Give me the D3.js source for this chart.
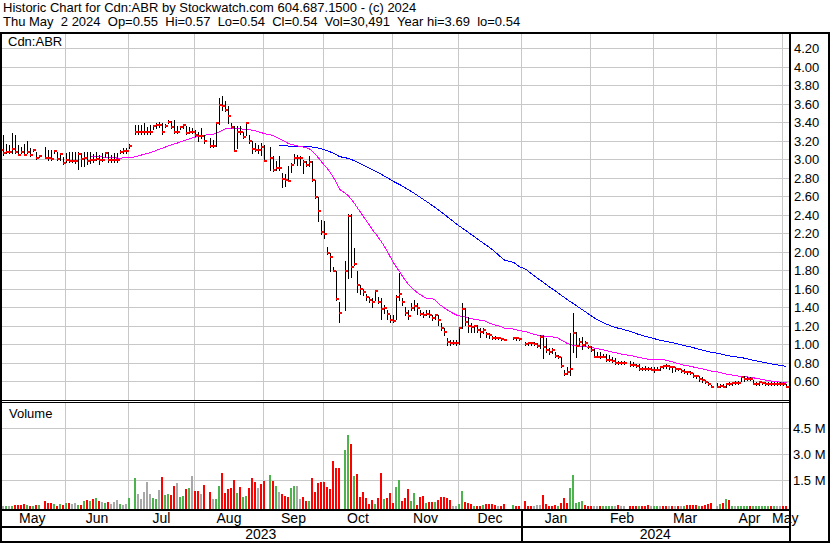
<!DOCTYPE html>
<html><head><meta charset="utf-8">
<script src="https://cdn.jsdelivr.net/npm/d3@7"></script>
<style>
html,body{margin:0;padding:0;background:#fff;}
svg{display:block;font-family:"Liberation Sans",Arial,Helvetica,sans-serif;}
svg text{white-space:pre;}
</style></head><body>
<svg id="chart" width="830" height="543"></svg>
<script>
// ---------------- DATA ----------------
const titleLine1 = "Historic Chart for Cdn:ABR by Stockwatch.com 604.687.1500 - (c) 2024";
const titleLine2 = "Thu May  2 2024  Op=0.55  Hi=0.57  Lo=0.54  Cl=0.54  Vol=30,491  Year hi=3.69  lo=0.54";
const symbolLabel = "Cdn:ABR";
const volumeLabel = "Volume";
const firstDay = "2023-05-02";
const lastDay = "2024-05-02";
const holidays = ["2023-05-22","2023-07-03","2023-08-07","2023-09-04","2023-10-09",
  "2023-12-25","2023-12-26","2024-01-01","2024-02-19","2024-03-29"];

const closes = [
 3.10,3.065,3.08,3.08,3.11,3.08,3.05,3.08,3.05,3.08,3.05,3.10,3.015,3.035,3.02,3.015,3.005,3.09,3.005,3.055,2.96,
 2.99,2.985,2.985,2.985,3.06,3.005,3.02,2.985,2.99,2.995,3.01,2.995,2.995,3.07,2.995,2.99,2.99,2.99,3.08,3.09,3.09,3.145,
 3.30,3.30,3.30,3.30,3.30,3.30,3.36,3.375,3.375,3.30,3.365,3.41,3.35,3.30,3.30,3.35,3.37,3.29,3.30,3.30,
 3.27,3.25,3.25,3.20,3.15,3.15,3.39,3.59,3.575,3.54,3.47,3.35,3.095,3.30,3.295,3.245,3.39,3.195,3.11,3.10,3.10,3.135,
 2.985,3.015,2.89,2.905,2.905,2.79,2.78,2.77,2.945,3.015,3.015,3.015,2.97,2.945,2.97,2.78,2.59,2.44,2.22,2.20,
 1.99,1.95,1.80,1.49,1.34,1.80,2.39,1.84,1.875,1.64,1.605,1.57,1.515,1.48,1.46,1.58,1.46,1.38,1.39,1.335,1.265,
 1.255,1.515,1.545,1.46,1.345,1.305,1.39,1.415,1.39,1.335,1.32,1.335,1.32,1.29,1.32,1.265,1.175,1.14,1.03,1.02,1.02,1.02,
 1.175,1.38,1.245,1.20,1.19,1.20,1.155,1.14,1.16,1.11,1.10,1.07,1.065,1.065,1.055,1.05,1.07,1.065,1.06,
 1.01,1.02,1.02,1.01,0.98,1.08,0.97,0.94,0.92,0.94,0.88,0.865,0.765,0.68,0.70,0.73,1.12,0.98,1.03,1.00,1.02,0.975,
 0.945,0.87,0.87,0.87,0.87,0.83,0.83,0.82,0.80,0.80,0.80,0.80,0.78,0.78,0.765,0.73,0.735,0.73,0.73,0.725,
 0.725,0.725,0.755,0.77,0.77,0.755,0.755,0.73,0.73,0.71,0.70,0.70,0.69,0.66,0.655,0.625,0.615,0.59,0.575,0.54,
 0.54,0.555,0.54,0.575,0.575,0.58,0.58,0.585,0.645,0.625,0.625,0.625,0.575,0.575,0.59,0.58,0.575,0.575,0.575,0.575,0.575,0.575,
 0.575,0.54
];
const highs = [
 3.16,3.26,3.17,3.16,3.29,3.26,3.155,3.14,3.17,3.20,3.125,3.11,3.08,3.045,3.14,3.10,3.10,3.10,3.08,3.065,3.025,
 3.075,3.08,3.08,3.08,3.08,3.07,3.08,3.08,3.08,3.055,3.08,3.045,3.07,3.075,3.08,3.045,3.065,3.065,3.10,3.12,3.12,3.17,
 3.37,3.37,3.37,3.395,3.35,3.37,3.37,3.39,3.405,3.39,3.38,3.43,3.42,3.43,3.36,3.36,3.38,3.36,3.35,3.34,
 3.32,3.30,3.34,3.27,3.23,3.21,3.40,3.665,3.69,3.63,3.575,3.395,3.365,3.36,3.36,3.30,3.405,3.27,3.195,3.18,3.16,3.18,
 3.16,3.14,3.035,2.98,3.035,2.85,2.84,2.925,2.96,3.06,3.05,3.035,3.00,2.98,3.035,2.98,2.78,2.60,2.35,2.335,
 2.05,1.99,1.84,1.80,1.46,1.90,2.415,2.415,2.04,1.80,1.64,1.605,1.55,1.515,1.50,1.59,1.515,1.50,1.425,1.37,1.32,
 1.32,1.535,1.77,1.50,1.41,1.37,1.445,1.48,1.445,1.37,1.355,1.37,1.37,1.32,1.335,1.32,1.23,1.175,1.065,1.05,1.05,1.05,
 1.19,1.445,1.39,1.30,1.23,1.21,1.21,1.175,1.175,1.13,1.12,1.09,1.09,1.08,1.07,1.06,1.08,1.08,1.07,
 1.03,1.03,1.03,1.03,1.02,1.10,1.10,1.07,0.96,0.96,0.92,0.89,0.87,0.725,0.76,1.127,1.337,1.13,1.07,1.08,1.04,1.00,
 0.98,0.95,0.92,0.92,0.90,0.90,0.89,0.86,0.85,0.82,0.82,0.82,0.82,0.81,0.785,0.785,0.76,0.77,0.76,0.76,
 0.76,0.755,0.77,0.78,0.785,0.78,0.76,0.76,0.75,0.74,0.735,0.71,0.71,0.69,0.67,0.66,0.645,0.62,0.60,0.565,
 0.58,0.575,0.575,0.585,0.59,0.60,0.61,0.61,0.65,0.655,0.65,0.65,0.62,0.60,0.60,0.60,0.60,0.60,0.60,0.60,0.60,0.60,
 0.60,0.57
];
const lows = [
 3.06,3.045,3.065,3.07,3.07,3.065,3.045,3.065,3.045,3.065,3.035,3.09,3.005,3.03,3.015,3.00,2.99,3.07,2.99,3.00,2.955,
 2.975,2.975,2.975,2.96,2.90,2.935,2.925,2.95,2.96,2.975,2.99,2.955,2.985,3.03,2.975,2.975,2.97,2.975,3.07,3.07,3.075,3.12,
 3.28,3.28,3.28,3.28,3.28,3.28,3.335,3.345,3.35,3.28,3.35,3.395,3.34,3.285,3.285,3.33,3.34,3.275,3.285,3.285,
 3.25,3.195,3.23,3.18,3.14,3.13,3.15,3.38,3.54,3.52,3.395,3.34,3.09,3.12,3.275,3.23,3.27,3.18,3.07,3.09,3.075,3.05,
 2.98,2.89,2.88,2.89,2.89,2.70,2.71,2.765,2.87,2.96,2.94,2.94,2.85,2.925,2.925,2.765,2.58,2.33,2.20,2.15,
 1.98,1.80,1.79,1.48,1.245,1.37,1.715,1.73,1.86,1.57,1.55,1.535,1.48,1.46,1.41,1.48,1.445,1.28,1.34,1.28,1.245,
 1.245,1.28,1.48,1.425,1.32,1.28,1.37,1.37,1.335,1.32,1.30,1.32,1.30,1.265,1.28,1.21,1.155,1.10,0.995,0.995,1.005,0.995,
 1.01,1.175,1.21,1.14,1.14,1.14,1.14,1.085,1.12,1.08,1.07,1.06,1.06,1.055,1.05,1.045,1.055,1.05,1.05,
 1.00,0.99,1.00,0.995,0.97,0.965,0.855,0.92,0.90,0.91,0.865,0.855,0.755,0.67,0.68,0.665,0.92,0.86,0.99,0.95,0.98,0.96,
 0.93,0.86,0.86,0.855,0.86,0.82,0.825,0.81,0.79,0.785,0.79,0.79,0.77,0.77,0.76,0.72,0.725,0.725,0.72,0.72,
 0.70,0.72,0.72,0.745,0.745,0.74,0.70,0.71,0.72,0.70,0.69,0.685,0.68,0.65,0.635,0.61,0.60,0.58,0.565,0.54,
 0.54,0.54,0.54,0.54,0.56,0.565,0.57,0.575,0.61,0.61,0.615,0.615,0.57,0.565,0.565,0.57,0.565,0.565,0.565,0.565,0.565,0.56,
 0.565,0.54
];
// daily volume, thousands of shares
const volumesK = [
 100,57,40,10,57,115,115,115,172,115,57,40,115,115,344,229,229,172,40,172,115,
 229,229,172,229,115,115,344,402,344,459,516,344,287,229,287,172,287,402,172,115,172,516,
 1663,746,459,860,1434,746,516,459,975,1721,688,746,688,1205,1377,574,631,1033,1090,1778,
 918,918,746,1262,860,459,459,1205,1950,803,1033,1090,1549,803,1147,574,631,1090,1663,1434,1090,1319,
 1491,1836,1491,1205,860,746,631,574,1090,1205,1205,459,574,344,344,1663,860,1377,1434,1434,
 1147,1033,2639,2237,2237,3270,4130,3614,1778,1893,574,860,516,172,402,172,516,1950,459,516,803,
 229,1147,1549,344,516,1033,344,803,115,535,631,210,249,287,249,402,535,574,516,402,57,57,
 172,918,287,229,172,57,40,40,115,172,172,134,96,30,40,172,115,57,57,
 344,40,40,57,115,115,688,172,57,57,115,57,229,516,229,1090,1836,229,287,344,115,57,
 57,30,30,40,57,57,40,40,20,96,20,20,57,40,40,57,40,40,96,20,
 40,40,20,40,40,40,40,57,40,40,40,96,96,96,96,40,57,96,172,229,
 57,153,229,421,363,57,20,20,20,20,20,10,10,10,10,10,10,10,57,20,57,20,
 20,30
];
// day-over-day change of the close as shown by the volume colour: 1 up, -1 down, 0 unchanged
const volumeChange = [
 0,0,1,0,1,-1,-1,-1,-1,1,-1,1,-1,1,-1,-1,-1,1,-1,1,-1,
 1,-1,0,0,1,-1,1,-1,1,-1,1,-1,0,1,-1,0,0,0,1,0,0,1,
 1,0,0,0,0,0,1,1,0,-1,1,1,-1,-1,0,1,1,-1,1,0,
 -1,-1,0,-1,-1,0,1,1,-1,-1,-1,-1,-1,1,-1,1,1,-1,-1,-1,0,-1,
 -1,1,-1,1,0,-1,-1,-1,1,1,0,0,-1,-1,1,-1,-1,-1,-1,-1,
 -1,-1,-1,-1,-1,1,1,-1,1,-1,-1,-1,-1,-1,-1,1,-1,-1,1,-1,-1,
 -1,1,1,-1,-1,-1,1,1,-1,-1,-1,1,-1,-1,1,-1,-1,-1,-1,-1,0,0,
 1,1,-1,-1,-1,1,-1,-1,1,-1,-1,-1,-1,0,-1,-1,1,-1,-1,
 -1,-1,-1,0,0,0,-1,-1,-1,-1,-1,1,-1,-1,-1,1,1,1,1,1,-1,-1,
 -1,0,0,-1,1,1,1,1,0,-1,0,0,-1,-1,-1,1,-1,-1,-1,0,
 1,1,0,-1,-1,0,-1,0,-1,0,1,-1,-1,-1,-1,1,-1,-1,-1,-1,
 0,1,-1,1,-1,1,0,1,1,1,1,-1,1,1,1,1,1,1,-1,1,0,0,
 -1,-1
];
const priceTicks = [0.60,0.80,1.00,1.20,1.40,1.60,1.80,2.00,2.20,2.40,2.60,2.80,3.00,3.20,3.40,3.60,3.80,4.00,4.20];
const volumeTicks = [1.5e6, 3.0e6, 4.5e6];
const volumeTickLabels = ["1.5 M","3.0 M","4.5 M"];
const monthNames = ["Jan","Feb","Mar","Apr","May","Jun","Jul","Aug","Sep","Oct","Nov","Dec"];
const shortAverageDays = 30;
const longAverageDays = 90;

// ---------------- LAYOUT ----------------
const W = 830, H = 543;
const plotL = 2, plotR = 789;
const priceTop = 34, priceBottom = 400;
const volTop = 403, volBottom = 509;
const monthRowBottom = 526;
const C = {grid:"#c8c8c8", bar:"#000", close:"#ff0000", maS:"#ff00ff", maL:"#0000ff",
           up:"#4cb44c", down:"#ff0000", flat:"#a8a8a8", text:"#000"};

const svg = d3.select("#chart");
svg.append("rect").attr("width",W).attr("height",H).attr("fill","#fff");

// ---------------- DATES / SLOTS ----------------
const parse = d3.utcParse("%Y-%m-%d"), fmt = d3.utcFormat("%Y-%m-%d");
const holidaySet = new Set(holidays);
const weekdays = d3.utcDays(parse(firstDay), d3.utcDay.offset(parse(lastDay),1))
  .filter(d => d.getUTCDay() !== 0 && d.getUTCDay() !== 6);
const slotOf = new Map(weekdays.map((d,i)=>[fmt(d), i]));
const tradingDays = weekdays.filter(d => !holidaySet.has(fmt(d)));
const bars = tradingDays.map((d,i)=>({date:d, slot:slotOf.get(fmt(d)), c:closes[i], h:highs[i], l:lows[i],
  v:volumesK[i]*1000, dir:volumeChange[i]}));
const nSlots = weekdays.length;

const x = d3.scaleLinear().domain([0, nSlots-1]).range([0, 3*(nSlots-1)]);
const y = d3.scaleLinear().domain([0.6, 4.2]).range([381.5, 48.5]);
const yv = d3.scaleLinear().domain([0, 4.5e6]).range([506.5, 428.5]);

const months = d3.utcMonths(d3.utcMonth.floor(parse(firstDay)), d3.utcMonth.offset(d3.utcMonth.floor(parse(lastDay)),1));
function boundarySlot(m){
  let s = -1;
  weekdays.forEach((d,i)=>{ if (d <= m) s = i; });
  return s;
}
const monthInfo = months.map((m,i)=>({m, start: i===0 ? null : boundarySlot(m)}));
const gridX = s => x(s) - 0.5;

// ---------------- CLIPS ----------------
const defs = svg.append("defs");
defs.append("clipPath").attr("id","pclip").append("rect")
  .attr("x",plotL).attr("y",priceTop).attr("width",plotR-plotL).attr("height",priceBottom-priceTop);
defs.append("clipPath").attr("id","vclip").append("rect")
  .attr("x",plotL).attr("y",volTop).attr("width",plotR-plotL).attr("height",volBottom-volTop);

// ---------------- GRID ----------------
const grid = svg.append("g").attr("shape-rendering","crispEdges").attr("stroke",C.grid).attr("stroke-width",1);
grid.selectAll(".hp").data(priceTicks).join("line")
  .attr("x1",plotL).attr("x2",plotR)
  .attr("y1",d=>Math.floor(y(d))+0.5).attr("y2",d=>Math.floor(y(d))+0.5);
grid.selectAll(".hv").data(volumeTicks).join("line")
  .attr("x1",plotL).attr("x2",plotR)
  .attr("y1",d=>Math.floor(yv(d))+0.5).attr("y2",d=>Math.floor(yv(d))+0.5);
const vlines = monthInfo.filter(d=>d.start!==null);
grid.selectAll(".vp").data(vlines).join("line")
  .attr("x1",d=>gridX(d.start)).attr("x2",d=>gridX(d.start))
  .attr("y1",priceTop).attr("y2",priceBottom);
grid.selectAll(".vv").data(vlines).join("line")
  .attr("x1",d=>gridX(d.start)).attr("x2",d=>gridX(d.start))
  .attr("y1",volTop).attr("y2",volBottom);

// ---------------- VOLUME ----------------
svg.append("g").attr("clip-path","url(#vclip)").attr("shape-rendering","crispEdges")
  .selectAll("rect").data(bars).join("rect")
  .attr("x",d=>x(d.slot)-1).attr("width",2)
  .attr("y",d=>Math.round(yv(d.v))).attr("height",d=>volBottom-Math.round(yv(d.v)))
  .attr("fill",d=>d.dir>0?C.up:(d.dir<0?C.down:C.flat));

// ---------------- MOVING AVERAGES ----------------
function sma(n){
  return bars.map((b,i)=> i<n-1 ? null : {slot:b.slot, val:d3.mean(bars.slice(i-n+1,i+1), d=>d.c)}).filter(Boolean);
}
const line = d3.line().x(d=>x(d.slot)+0.5).y(d=>y(d.val));
const pg = svg.append("g").attr("clip-path","url(#pclip)");
pg.append("path").datum(sma(longAverageDays)).attr("d",line).attr("fill","none")
  .attr("stroke",C.maL).attr("stroke-width",1).attr("shape-rendering","crispEdges");
pg.append("path").datum(sma(shortAverageDays)).attr("d",line).attr("fill","none")
  .attr("stroke",C.maS).attr("stroke-width",1).attr("shape-rendering","crispEdges");

// ---------------- PRICE BARS ----------------
const bg = pg.append("g").attr("shape-rendering","crispEdges");
bg.selectAll("line").data(bars).join("line")
  .attr("x1",d=>x(d.slot)+0.5).attr("x2",d=>x(d.slot)+0.5)
  .attr("y1",d=>Math.round(y(d.h))).attr("y2",d=>Math.round(y(d.l))+1)
  .attr("stroke",C.bar).attr("stroke-width",1);
bg.selectAll("rect").data(bars).join("rect")
  .attr("x",d=>x(d.slot)).attr("width",3)
  .attr("y",d=>Math.round(y(d.c))-1).attr("height",2)
  .attr("fill",C.close);

// ---------------- FRAME ----------------
const frame = svg.append("g").attr("fill","#000").attr("shape-rendering","crispEdges");
const R = (x0,y0,w,h)=>frame.append("rect").attr("x",x0).attr("y",y0).attr("width",w).attr("height",h);
R(0,32,W,2);
R(0,32,2,H-32);
R(W-2,32,2,H-32);
R(plotR,32,2,H-32);
R(0,400,plotR+2,1); R(0,402,plotR+2,1);
R(0,volBottom,plotR+2,2);
R(0,monthRowBottom,plotR+2,2);
R(0,H-2,W,2);
const janInfo = monthInfo.find(d=>d.m.getUTCMonth()===0);
R(Math.round(gridX(janInfo.start))-1, volBottom, 2, H-volBottom);

// ---------------- TEXT ----------------
const T = svg.append("g").attr("fill",C.text);
const txt = (x0,y0,s,size)=>T.append("text").attr("xml:space","preserve")
  .attr("x",x0).attr("y",y0).attr("font-size",size).text(s);
txt(3,12,titleLine1,13);
txt(3,26,titleLine2,13);
txt(8,46,symbolLabel,13);
txt(9,418,volumeLabel,13);
T.selectAll(".pt").data(priceTicks).join("text")
  .attr("x",794).attr("y",d=>Math.floor(y(d))+5).attr("font-size",13)
  .text(d=>d3.format(".2f")(d));
T.selectAll(".vt").data(volumeTicks).join("text")
  .attr("x",793).attr("y",d=>Math.floor(yv(d))+5).attr("font-size",13)
  .text((d,i)=>volumeTickLabels[i]);
const firstX = x(0)-1, endX = x(nSlots-1)+2;
monthInfo.forEach((d,i)=>{
  const a = d.start===null ? firstX : gridX(d.start);
  const b = i<monthInfo.length-1 ? gridX(monthInfo[i+1].start) : endX;
  d.cx = (a+b)/2;
});
T.selectAll(".ml").data(monthInfo).join("text")
  .attr("x",d=>d.cx).attr("y",523).attr("font-size",14).attr("text-anchor","middle")
  .text(d=>monthNames[d.m.getUTCMonth()]);
const years = d3.groups(monthInfo, d=>d.m.getUTCFullYear());
years.forEach(([yr, ms])=>{
  const a = ms[0].start===null ? 0 : gridX(ms[0].start);
  const idx = monthInfo.indexOf(ms[ms.length-1]);
  const b = idx<monthInfo.length-1 ? gridX(monthInfo[idx+1].start) : plotR;
  T.append("text").attr("x",(a+b)/2).attr("y",539).attr("font-size",14).attr("text-anchor","middle").text(yr);
});
frame.raise();
</script>
</body></html>
